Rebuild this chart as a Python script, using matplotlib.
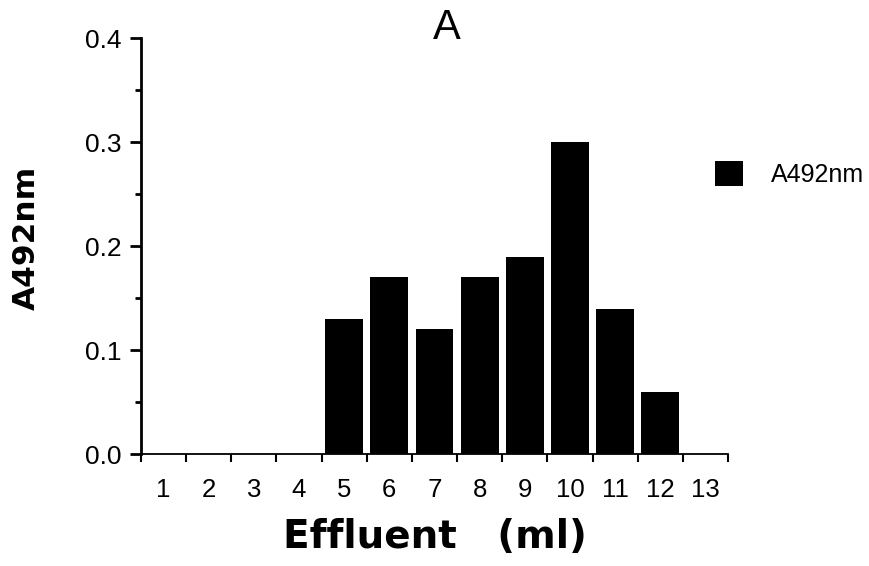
import matplotlib
matplotlib.use("Agg")
import matplotlib.pyplot as plt
from matplotlib.ticker import MultipleLocator, FixedLocator
import numpy as np

# Data
fractions = [1, 2, 3, 4, 5, 6, 7, 8, 9, 10, 11, 12, 13]
absorbance = [0.0, 0.0, 0.0, 0.0, 0.13, 0.17, 0.12, 0.17, 0.19, 0.30, 0.14, 0.06, 0.0]
y_ticks = [0.0, 0.1, 0.2, 0.3, 0.4]
series_name = "A492nm"

fig = plt.figure(figsize=(8.69, 5.66), dpi=100)
ax = fig.add_axes([141 / 869, 1 - 454 / 566, (728 - 141) / 869, (454 - 38.3) / 566])

ax.bar(fractions, absorbance, width=0.84, color="black", label=series_name)

ax.set_xlim(0.5, 13.5)
ax.set_ylim(0, 0.4)

# spines
for side in ["top", "right"]:
    ax.spines[side].set_visible(False)
ax.spines["left"].set_linewidth(2.0)
ax.spines["bottom"].set_linewidth(1.3)

# y ticks
ax.yaxis.set_major_locator(FixedLocator(y_ticks))
ax.yaxis.set_minor_locator(MultipleLocator(0.05))
ax.set_yticklabels([f"{v:.1f}" for v in y_ticks])
ax.tick_params(axis="y", which="major", length=8, width=2, pad=6, labelsize=19, direction="out")
ax.tick_params(axis="y", which="minor", length=4.5, width=2, direction="out")

# x ticks: labels at centers, tick marks at boundaries
ax.xaxis.set_major_locator(FixedLocator(fractions))
ax.xaxis.set_minor_locator(FixedLocator(np.arange(0.5, 14, 1.0)))
ax.set_xticklabels([str(f) for f in fractions])
ax.tick_params(axis="x", which="major", length=0, pad=17, labelsize=18.5)
ax.tick_params(axis="x", which="minor", length=5.5, width=1.5, direction="out")

for lbl in ax.get_xticklabels() + ax.get_yticklabels():
    lbl.set_family("Liberation Sans")

# title and axis labels
fig.text(447 / 869, 1 - 39.3 / 566, "A", ha="center", va="baseline",
         fontsize=30, family="Liberation Sans")
fig.text(26 / 869, 1 - 237.5 / 566, "A492nm", rotation=90, ha="center", va="center",
         fontsize=22.5, fontweight="bold", family="DejaVu Sans")
fig.text(434.5 / 869, 1 - 548.3 / 566, "Effluent   (ml)", ha="center", va="baseline",
         fontsize=28, fontweight="bold", family="DejaVu Sans")

# legend
fig.legend(loc="center left", bbox_to_anchor=(715 / 869, 1 - 174 / 566),
           frameon=False, borderpad=0, borderaxespad=0,
           handlelength=1.12, handleheight=1.12, handletextpad=1.1,
           prop={"family": "Liberation Sans", "size": 18})

fig.savefig("out.png", dpi=100, facecolor="white")
